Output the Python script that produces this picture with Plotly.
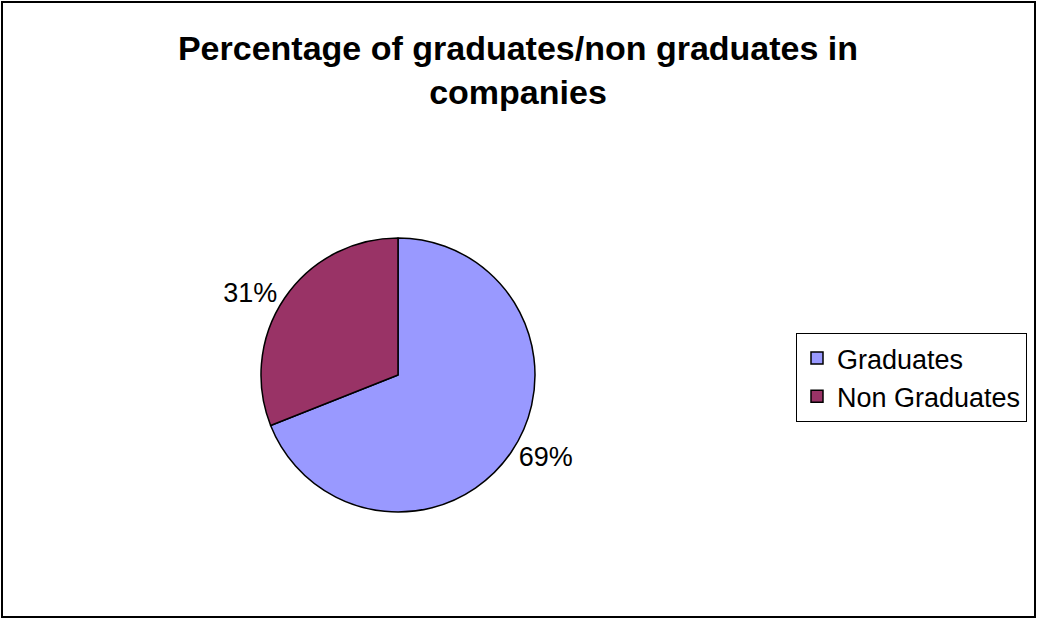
import plotly.graph_objects as go

# Share of graduates vs non graduates
categories = ["Graduates", "Non Graduates"]
shares = [69, 31]
colors = ["#9999FF", "#993366"]

W, H = 1037, 619

fig = go.Figure(
    go.Pie(
        labels=categories,
        values=shares,
        sort=False,
        direction="clockwise",
        rotation=0,
        marker=dict(colors=colors, line=dict(color="black", width=1.5)),
        textinfo="percent",
        texttemplate="%{percent:.0%}",
        textposition="outside",
        outsidetextfont=dict(family="Liberation Sans, Arial", size=27, color="black"),
        domain=dict(x=[261 / W, 535 / W], y=[(H - 512) / H, (H - 238) / H]),
        hoverinfo="label+percent",
    )
)

fig.update_layout(
    width=W,
    height=H,
    margin=dict(l=0, r=0, t=0, b=0),
    paper_bgcolor="white",
    plot_bgcolor="white",
    font=dict(family="Liberation Sans, Arial", color="black"),
    title=dict(
        text="<b>Percentage of graduates/non graduates in<br>companies</b>",
        x=518 / W,
        xanchor="center",
        y=1 - 60 / H,
        yanchor="top",
        yref="container",
        font=dict(family="Liberation Sans, Arial", size=34, color="black"),
    ),
    showlegend=True,
    legend=dict(
        x=796 / W,
        xanchor="left",
        y=(H - 333) / H,
        yanchor="top",
        bordercolor="black",
        borderwidth=1,
        bgcolor="white",
        font=dict(family="Liberation Sans, Arial", size=27, color="black"),
    ),
    shapes=[
        dict(type="rect", xref="paper", yref="paper",
             x0=2 / W, x1=(W - 2) / W, y0=2 / H, y1=(H - 2) / H,
             line=dict(color="black", width=2), fillcolor="rgba(0,0,0,0)"),
    ],
)

fig.write_html("out.html")
